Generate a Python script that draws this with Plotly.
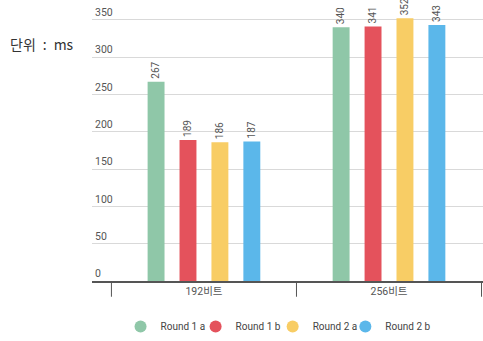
import plotly.graph_objects as go

# Key sizes compared (bit lengths) and the four rounds measured
categories = ["192비트", "256비트"]
series_names = ["Round 1 a", "Round 1 b", "Round 2 a", "Round 2 b"]
round1_a = [267, 340]
round1_b = [189, 341]
round2_a = [186, 352]
round2_b = [187, 343]
y_ticks = [0, 50, 100, 150, 200, 250, 300, 350]

series_values = [round1_a, round1_b, round2_a, round2_b]
colors = ["#8FC7A8", "#E4525C", "#F8CD65", "#5BB7EA"]

LABEL_FONT = dict(family="Roboto, 'Noto Sans CJK KR', sans-serif", size=10.5, color="#555555")
VALUE_FONT = dict(family="Roboto, sans-serif", size=11, color="#555555")
LEGEND_FONT = dict(family="Roboto, sans-serif", size=10, color="#444444")

# one single-entry legend per round, laid out in a tight row under the axis
legend_ids = ["legend", "legend2", "legend3", "legend4"]
legend_x = [0.073, 0.265, 0.462, 0.648]

fig = go.Figure()

for name, vals, col in zip(series_names, series_values, colors):
    fig.add_trace(go.Bar(
        x=categories, y=vals, name=name, marker_color=col,
        marker_line_width=0,
        text=[str(v) for v in vals], textposition="outside", textangle=-90,
        textfont=VALUE_FONT, cliponaxis=False,
        showlegend=False, legendgroup=name,
    ))

# Round legend markers
for name, col, lid in zip(series_names, colors, legend_ids):
    fig.add_trace(go.Scatter(
        x=[None], y=[None], mode="markers", name=name, legendgroup=name,
        legend=lid, marker=dict(symbol="circle", size=12, color=col),
    ))

# Category dividers below the baseline
for b in [-0.5, 0.5, 1.5]:
    fig.add_shape(type="line", xref="x", yref="paper", x0=b, x1=b, y0=0, y1=-0.056,
                  line=dict(color="#555555", width=1))

fig.add_annotation(text="단위\u2002:\u2002ms", xref="paper", yref="paper", x=-0.129, y=0.845,
                   xanchor="center", yanchor="middle", showarrow=False,
                   font=dict(family="'Noto Sans CJK KR', sans-serif", size=14, color="#333333"))

legend_layout = {}
for lid, lx in zip(legend_ids, legend_x):
    legend_layout[lid] = dict(orientation="h", x=lx, y=-0.163, xanchor="left", yanchor="middle",
                              font=LEGEND_FONT, itemwidth=30, bgcolor="rgba(0,0,0,0)")

fig.update_layout(
    width=483, height=341,
    margin=dict(l=92, r=0, t=0, b=57),
    paper_bgcolor="white", plot_bgcolor="white",
    barmode="group", bargap=0.31, bargroupgap=0.47,
    font=LABEL_FONT,
    xaxis=dict(type="category", range=[-0.605, 1.508], showgrid=False,
               showline=True, linecolor="#555555", linewidth=1.5, ticks="",
               tickfont=LABEL_FONT),
    yaxis=dict(range=[0, 376.5], tickvals=y_ticks, showgrid=True, gridcolor="#D9D9D9",
               gridwidth=1, zeroline=False, showline=False,
               ticklabelposition="inside top", tickfont=LABEL_FONT),
    **legend_layout,
)

fig.write_html("out.html")
